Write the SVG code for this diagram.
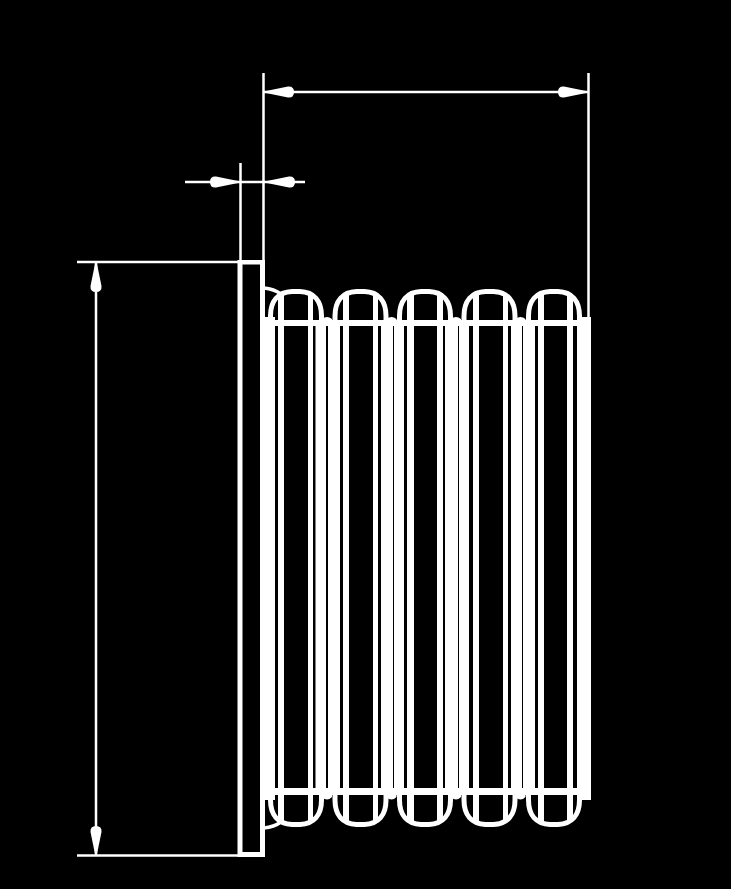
<svg xmlns="http://www.w3.org/2000/svg" width="731" height="889" viewBox="0 0 731 889">
<style>
.d{stroke:#fff;stroke-width:2.500;fill:none}
.w{stroke:#fff;stroke-width:5;fill:none}
.k{stroke:#fff;stroke-width:3.500;fill:none}
.h{fill:#fff;stroke:none}
.b{fill:#fff;stroke:none}
</style>
<defs>
<path id="c" class="w" d="M270.500 322V316C270.500 301 278 292 292 291.500H300C314 292 321.500 301 321.500 316V322M270.500 794V800C270.500 815 278 824 292 824.500H300C314 824 321.500 815 321.500 800V794"/>
<path id="ar" class="h" d="M0 -1L22 -5.500Q28 -6 28 0Q28 6 22 5.500L0 1Z"/>
<path id="v" class="b" d="M322 322V319Q327 315 332 319V322ZM322 794V797Q327 802 332 797V794Z"/>
</defs>
<rect width="731" height="889" fill="#000"/>
<g id="connectors">
<path class="d" d="M263.500 73V262M588.500 73V320M185 182H305M264 92H589M240.500 163V262M77 262H240M77 855.500H240M96 262V856"/>
<use href="#ar" transform="translate(266 92)"/>
<use href="#ar" transform="translate(586 92) rotate(180)"/>
<use href="#ar" transform="translate(238 182) rotate(180)"/>
<use href="#ar" transform="translate(267 182)"/>
<use href="#ar" transform="translate(96 264) rotate(90)"/>
<use href="#ar" transform="translate(96 854) rotate(-90)"/>
</g>
<g id="flange">
<path class="b" d="M237.500 260H265V857H237.500ZM242.500 264.500V852H260V264.500Z" fill-rule="evenodd"/>
<rect class="b" x="260" y="317" width="15" height="483"/>
<path class="k" d="M264 288Q274 289 281 294M264 828Q274 827 281 822"/>
</g>
<g id="bellows">
<g id="crowns"><use href="#c"/><use href="#c" x="64.500"/><use href="#c" x="129"/><use href="#c" x="193.500"/><use href="#c" x="258"/></g>
<g id="valleys"><use href="#v"/><use href="#v" x="64.500"/><use href="#v" x="129"/><use href="#v" x="193.500"/></g>
<g id="stripes">
<rect class="b" x="278" y="295" width="6" height="526"/>
<rect class="b" x="308" y="295" width="5" height="526"/>
<rect class="b" x="315.500" y="322" width="10.500" height="473"/>
<rect class="b" x="328" y="322" width="12" height="473"/>
<rect class="b" x="343" y="295" width="6" height="526"/>
<rect class="b" x="373" y="295" width="5" height="526"/>
<rect class="b" x="381" y="322" width="12" height="473"/>
<rect class="b" x="394" y="322" width="10" height="473"/>
<rect class="b" x="407" y="295" width="7" height="526"/>
<rect class="b" x="437" y="295" width="6" height="526"/>
<rect class="b" x="445" y="322" width="13" height="473"/>
<rect class="b" x="459" y="322" width="10" height="473"/>
<rect class="b" x="473" y="295" width="6" height="526"/>
<rect class="b" x="503" y="295" width="5" height="526"/>
<rect class="b" x="511" y="322" width="11" height="473"/>
<rect class="b" x="523" y="322" width="12" height="473"/>
<rect class="b" x="538" y="295" width="6" height="526"/>
<rect class="b" x="567" y="295" width="6" height="526"/>
<rect class="b" x="577" y="317" width="14" height="483"/>
</g>
<rect class="b" x="265" y="320" width="326" height="6"/>
<rect class="b" x="265" y="788" width="326" height="7"/>
</g>
</svg>
